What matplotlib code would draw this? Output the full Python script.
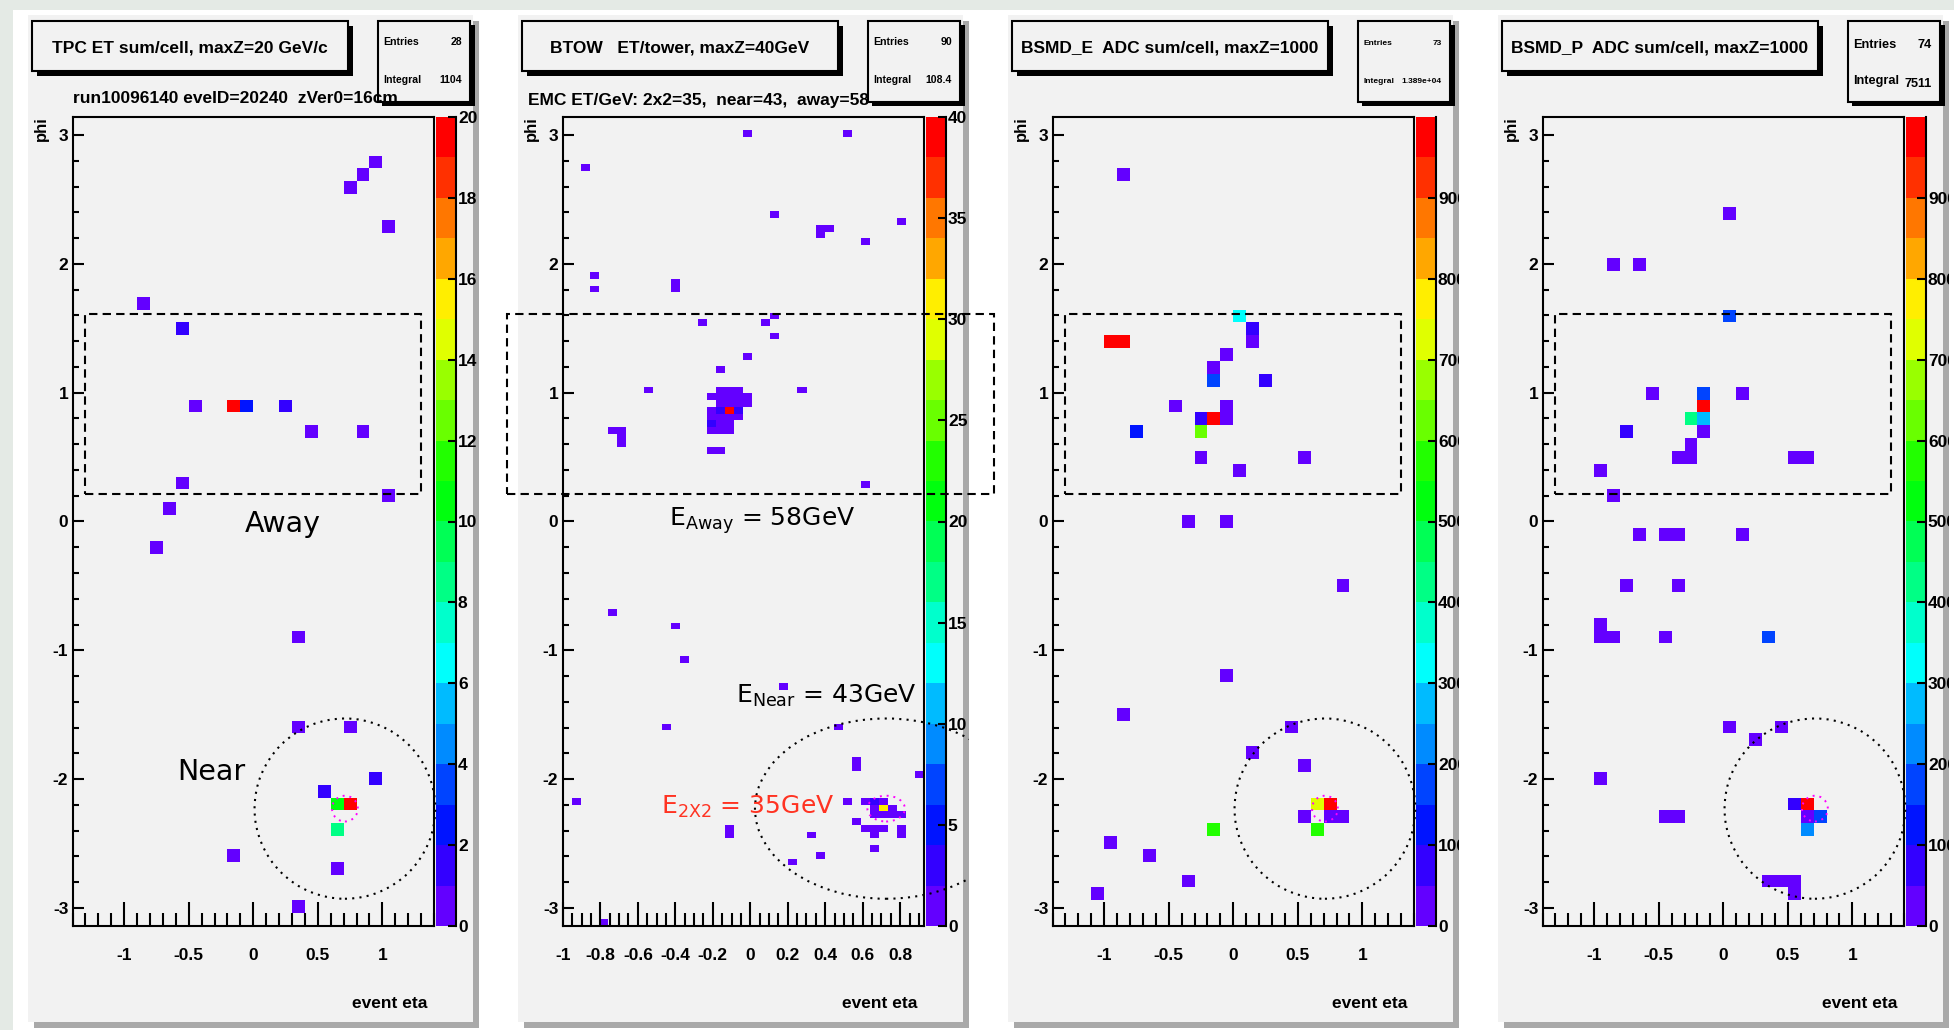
import colorsys
import numpy as np
import matplotlib
matplotlib.use("Agg")
import matplotlib.pyplot as plt
from matplotlib.colors import ListedColormap, BoundaryNorm
from matplotlib.patches import Rectangle, Circle
from matplotlib.lines import Line2D
from matplotlib.ticker import MultipleLocator, FuncFormatter
from matplotlib.transforms import Bbox, TransformedBbox

W, H = 1954, 1030

plt.rcParams['font.family'] = ['Liberation Sans', 'DejaVu Sans']
plt.rcParams['font.weight'] = 'bold'
plt.rcParams['axes.unicode_minus'] = False
plt.rcParams['axes.linewidth'] = 1.5

# ---------------- event data: (eta, phi, deposit) per filled cell ----------------
tpc_eta = [0.95, 0.85, 0.75, 1.05, -0.85, -0.55, -0.45, -0.15, -0.05, 0.25, 0.45, 0.85,
           -0.55, 1.05, -0.65, -0.75, 0.35, 0.35, 0.75, 0.95, 0.55, 0.65, 0.75, 0.65,
           -0.15, 0.65, 0.35]
tpc_phi = [2.79, 2.69, 2.59, 2.29, 1.70, 1.50, 0.90, 0.90, 0.90, 0.90, 0.70, 0.70,
           0.30, 0.20, 0.10, -0.20, -0.90, -1.60, -1.60, -2.00, -2.10, -2.19, -2.19, -2.39,
           -2.59, -2.69, -2.99]
tpc_et = [0.5, 0.6, 0.5, 0.7, 0.6, 1.4, 0.7, 19.5, 2.6, 1.5, 0.6, 0.5,
          0.4, 0.5, 0.6, 0.4, 0.7, 0.5, 0.6, 1.6, 1.8, 10.4, 19.8, 8.6,
          0.6, 0.5, 0.4]

btow_eta = [-0.88, -0.01, 0.52, 0.13, 0.81, 0.37, 0.42, 0.37, 0.61, -0.83, -0.83, -0.40,
            -0.40, -0.25, 0.08, 0.13, 0.13, -0.01, -0.16, -0.54, 0.28,
            -0.16, -0.11, -0.06,
            -0.21, -0.16, -0.11, -0.06, -0.01,
            -0.16, -0.11, -0.06, -0.01,
            -0.21, -0.16, -0.11, -0.06,
            -0.21, -0.16, -0.11, -0.06,
            -0.21, -0.16, -0.11,
            -0.21, -0.16, -0.11,
            -0.21, -0.16,
            -0.74, -0.69, -0.69, -0.69, 0.61,
            -0.74, -0.40, -0.35, 0.18, -0.45, 0.47, 0.57, 0.57, 0.90, -0.93,
            -0.11, -0.11, 0.32, 0.37, 0.23, 0.52,
            0.61, 0.66, 0.71,
            0.66, 0.71, 0.76,
            0.66, 0.71, 0.76, 0.81,
            0.57, 0.61, 0.66, 0.71, 0.81, 0.81, 0.66, 0.66, -0.79]
btow_phi = [2.75, 3.01, 3.01, 2.38, 2.33, 2.28, 2.28, 2.22, 2.17, 1.91, 1.81, 1.86,
            1.81, 1.55, 1.55, 1.60, 1.44, 1.28, 1.18, 1.02, 1.02,
            1.02, 1.02, 1.02,
            0.97, 0.97, 0.97, 0.97, 0.97,
            0.92, 0.92, 0.92, 0.92,
            0.86, 0.86, 0.86, 0.86,
            0.81, 0.81, 0.81, 0.81,
            0.76, 0.76, 0.76,
            0.71, 0.71, 0.71,
            0.55, 0.55,
            0.71, 0.71, 0.65, 0.60, 0.29,
            -0.71, -0.81, -1.07, -1.28, -1.60, -1.60, -1.86, -1.91, -1.96, -2.17,
            -2.38, -2.43, -2.43, -2.59, -2.64, -2.17,
            -2.17, -2.17, -2.17,
            -2.23, -2.23, -2.23,
            -2.28, -2.28, -2.28, -2.28,
            -2.33, -2.38, -2.38, -2.38, -2.38, -2.43, -2.43, -2.54, -3.12]
btow_et = [0.8, 0.6, 0.7, 0.9, 0.6, 1.1, 0.7, 0.8, 0.7, 0.6, 0.9, 0.8,
           0.7, 0.6, 0.7, 0.5, 0.9, 0.8, 0.7, 0.6, 0.7,
           1.2, 1.5, 0.9,
           0.7, 1.6, 1.9, 1.3, 0.6,
           1.4, 1.8, 1.2, 0.5,
           1.1, 3.2, 39.0, 2.8,
           1.5, 1.9, 1.7, 1.0,
           2.5, 1.6, 1.2,
           1.3, 1.1, 0.8,
           0.7, 0.6,
           0.9, 0.8, 0.7, 0.6, 0.6,
           0.7, 0.6, 0.8, 0.6, 0.7, 0.6, 0.8, 0.7, 0.6, 0.7,
           0.9, 0.7, 0.6, 0.7, 0.6, 0.8,
           1.2, 2.5, 1.4,
           1.5, 31.0, 1.8,
           1.7, 1.3, 1.1, 0.8,
           0.9, 0.7, 1.2, 0.9, 0.8, 0.6, 0.9, 0.7, 0.6]

bsmde_eta = [-0.85, 0.05, 0.15, -0.95, -0.85, 0.15, -0.05, -0.15, -0.15, 0.25, -0.45, -0.05,
             -0.25, -0.15, -0.05, -0.75, -0.25, -0.25, 0.55, 0.05, -0.35, -0.05, 0.85, -0.05,
             -0.85, 0.45, 0.15, 0.55, 0.65, 0.75, 0.55, 0.75, 0.85, 0.65, -0.15, -0.95,
             -0.65, -0.35, -1.05]
bsmde_phi = [2.69, 1.60, 1.50, 1.40, 1.40, 1.40, 1.30, 1.20, 1.10, 1.10, 0.90, 0.90,
             0.80, 0.80, 0.80, 0.70, 0.70, 0.50, 0.50, 0.40, 0.00, 0.00, -0.50, -1.20,
             -1.50, -1.60, -1.80, -1.90, -2.19, -2.19, -2.29, -2.29, -2.29, -2.39, -2.39, -2.49,
             -2.59, -2.79, -2.89]
bsmde_adc = [30, 320, 75, 960, 970, 35, 30, 25, 170, 80, 30, 35,
             70, 970, 30, 120, 620, 30, 25, 30, 20, 30, 25, 30,
             25, 30, 35, 30, 720, 990, 40, 30, 35, 570, 560, 30,
             25, 30, 30]

bsmdp_eta = [0.05, -0.85, -0.65, 0.05, -0.55, -0.15, 0.15, -0.15, -0.25, -0.15, -0.75, -0.15,
             -0.25, -0.35, -0.25, 0.55, 0.65, -0.95, -0.85, -0.65, -0.45, -0.35, 0.15, -0.75,
             -0.35, -0.95, -0.95, -0.85, -0.45, 0.35, 0.05, 0.25, 0.45, -0.95, -0.45, -0.35,
             0.55, 0.65, 0.65, 0.75, 0.65, 0.35, 0.45, 0.55, 0.55]
bsmdp_phi = [2.39, 1.99, 1.99, 1.60, 1.00, 1.00, 1.00, 0.90, 0.80, 0.80, 0.70, 0.70,
             0.60, 0.50, 0.50, 0.50, 0.50, 0.40, 0.20, -0.10, -0.10, -0.10, -0.10, -0.50,
             -0.50, -0.80, -0.90, -0.90, -0.90, -0.90, -1.60, -1.70, -1.60, -1.99, -2.29, -2.29,
             -2.19, -2.19, -2.29, -2.29, -2.39, -2.79, -2.79, -2.79, -2.89]
bsmdp_adc = [30, 30, 30, 170, 30, 160, 30, 980, 420, 270, 80, 30,
             30, 25, 30, 30, 25, 30, 30, 30, 25, 30, 30, 30,
             30, 30, 30, 30, 30, 170, 30, 30, 30, 30, 30, 30,
             80, 990, 30, 180, 220, 30, 30, 30, 30]

titles = ["TPC ET sum/cell, maxZ=20 GeV/c", "BTOW   ET/tower, maxZ=40GeV",
          "BSMD_E  ADC sum/cell, maxZ=1000", "BSMD_P  ADC sum/cell, maxZ=1000"]
entries = ["28", "90", "73", "74"]
integrals = ["1104", "108.4", "1.389e+04", "7511"]
z_max = [20, 40, 1000, 1000]
z_ticks = [np.arange(0, 21, 2), np.arange(0, 41, 5), np.arange(0, 901, 100), np.arange(0, 901, 100)]
subtitles = ["run10096140 eveID=20240  zVer0=16cm", "EMC ET/GeV: 2x2=35,  near=43,  away=58", "", ""]

# jet-finding geometry (eta, phi)
near_jet = (0.71, -2.23)
near_jet_btow = (0.725, -2.23)
cone_radius = 0.7
seed_radius = 0.1
away_box = (-1.3, 0.21, 2.6, 1.40)

# histogram binning
cell_eta_edges = np.linspace(-1.4, 1.4, 29)
cell_phi_edges = np.linspace(-np.pi, np.pi, 64)
tower_eta_edges = np.linspace(-1.002, 0.927, 41)
tower_phi_edges = np.linspace(-np.pi, np.pi, 121)


def root_palette(ncont=20, npal=50):
    """ROOT 'pretty' palette (50 HLS hues) sampled at ncont contour levels."""
    cols = []
    for j in range(ncont):
        idx = int((j + 0.99) * npal / ncont)
        hue = 280.0 - (idx + 1) * (280.0 / npal)
        cols.append(colorsys.hls_to_rgb(hue / 360.0, 0.5, 1.0))
    return ListedColormap(cols)


cmap = root_palette()

fig = plt.figure(figsize=(W / 100, H / 100), dpi=100)
fig.patch.set_facecolor('#e4eae5')


def frac_rect(x0, y0, x1, y1):
    return [x0 / W, 1 - y1 / H, (x1 - x0) / W, (y1 - y0) / H]


def fig_rect(x0, y0, x1, y1, **kw):
    return Rectangle((x0 / W, 1 - y1 / H), (x1 - x0) / W, (y1 - y0) / H,
                     transform=fig.transFigure, **kw)


def fig_text(x, y, s, **kw):
    return fig.text(x / W, 1 - y / H, s, **kw)


def pad_clip(x0, x1):
    return TransformedBbox(Bbox.from_extents(x0 / W, 0, x1 / W, 1), fig.transFigure)


def tick_fmt(v, pos):
    v = round(v, 6)
    if v == 0:
        return '0'
    return f'{v:g}'


fig.add_artist(fig_rect(13, 10, W, H, fc='white', ec='none', zorder=1))

pad_left = [28, 518, 1008, 1498]
panels = [
    (tpc_eta, tpc_phi, tpc_et, cell_eta_edges, cell_phi_edges, (0.5, 0.1), near_jet),
    (btow_eta, btow_phi, btow_et, tower_eta_edges, tower_phi_edges, (0.2, 0.05), near_jet_btow),
    (bsmde_eta, bsmde_phi, bsmde_adc, cell_eta_edges, cell_phi_edges, (0.5, 0.1), near_jet),
    (bsmdp_eta, bsmdp_phi, bsmdp_adc, cell_eta_edges, cell_phi_edges, (0.5, 0.1), near_jet),
]
stats_font = [7.6, 7.6, 6.0, 9.2]
stats_y = [(45, 83, 83), (45, 83, 83), (45, 83, 83), (47.5, 84, 87)]
sub_pos = [(45, 103), (10, 105), None, None]

for i, (eta, phi, w, xe, ye, (xmaj, xmin), jet) in enumerate(panels):
    P = pad_left[i]
    z = 10 * (i + 1)

    # pad with bevel shadow
    fig.add_artist(fig_rect(P + 6, 21, P + 451, 1028, fc='#a9a9a9', ec='none', zorder=z))
    fig.add_artist(fig_rect(P, 15, P + 445, 1022, fc='#f2f2f2', ec='none', zorder=z + 0.1))

    # title box
    fig.add_artist(fig_rect(P + 9, 26, P + 325, 75.5, fc='black', ec='none', zorder=z + 0.2))
    fig.add_artist(fig_rect(P + 4, 21, P + 320, 71, fc='#f2f2f2', ec='black', lw=1.5, zorder=z + 0.3))
    fig_text(P + 162, 52.7, titles[i], ha='center', va='baseline', fontsize=12.5, zorder=z + 0.4)

    # histogram
    Hc, _, _ = np.histogram2d(eta, phi, bins=[xe, ye], weights=w)
    Hm = np.ma.masked_equal(Hc.T, 0)
    norm = BoundaryNorm(np.linspace(0, z_max[i], 21), ncolors=20)

    cax = fig.add_axes(frac_rect(P + 407.5, 117, P + 428.5, 926))
    cax.set_zorder(z + 1)
    ax = fig.add_axes(frac_rect(P + 44.5, 117, P + 406, 926))
    ax.set_zorder(z + 2)
    ax.set_facecolor('#f2f2f2')

    mesh = ax.pcolormesh(xe, ye, Hm, cmap=cmap, norm=norm, edgecolors='none', antialiased=False)
    ax.set_xlim(xe[0], xe[-1])
    ax.set_ylim(-np.pi, np.pi)
    ax.xaxis.set_major_locator(MultipleLocator(xmaj))
    ax.xaxis.set_minor_locator(MultipleLocator(xmin))
    ax.yaxis.set_major_locator(MultipleLocator(1))
    ax.yaxis.set_minor_locator(MultipleLocator(0.2))
    ax.xaxis.set_major_formatter(FuncFormatter(tick_fmt))
    ax.yaxis.set_major_formatter(FuncFormatter(tick_fmt))
    ax.tick_params(axis='x', which='major', direction='in', length=17.3, width=1.5, pad=16, labelsize=12.5)
    ax.tick_params(axis='x', which='minor', direction='in', length=9.2, width=1.5)
    ax.tick_params(axis='y', which='major', direction='in', length=8, width=1.5, pad=3, labelsize=12.5)
    ax.tick_params(axis='y', which='minor', direction='in', length=4.3, width=1.5)

    # jet cones (cut at the pad edge) and away-side box
    dot = (0, (1, 2.5))
    for rad, col, lw in ((cone_radius, 'black', 1.5), (seed_radius, '#ff00ff', 1.4)):
        c = Circle(jet, rad, fill=False, ec=col, lw=lw, ls=dot, zorder=5)
        ax.add_patch(c)
        c.set_clip_path(None)
        c.set_clip_box(pad_clip(P, P + 451))
    ax.add_patch(Rectangle(away_box[:2], away_box[2], away_box[3], fill=False, ec='black', lw=1.5,
                           ls=(0, (4, 2.5)), clip_on=False, zorder=5))

    # palette axis
    cbar = fig.colorbar(mesh, cax=cax, ticks=z_ticks[i])
    cbar.outline.set_visible(False)
    cbar.minorticks_off()
    cax.tick_params(axis='y', which='major', direction='in', length=6.5, width=1.5, pad=1,
                    labelsize=12.5, right=True, labelright=True, left=False)
    cax.yaxis.set_major_formatter(FuncFormatter(tick_fmt))
    for t in cax.yaxis.get_major_ticks():
        t.label2.set_clip_on(True)
        t.label2.set_clip_box(pad_clip(0, P + 451))
    fig.add_artist(Line2D([(P + 428) / W] * 2, [1 - 926 / H, 1 - 117 / H], color='black', lw=1.5,
                          transform=fig.transFigure, zorder=z + 1.5))

    # axis titles
    fig_text(P + 13.5, 116, 'phi', rotation=90, ha='center', va='top', fontsize=12, zorder=z + 3)
    fig_text(P + 399, 1008, 'event eta', ha='right', va='baseline', fontsize=12.5, zorder=z + 3)

    # statistics box
    fig.add_artist(fig_rect(P + 354, 25, P + 447, 106, fc='black', ec='none', zorder=z + 4))
    fig.add_artist(fig_rect(P + 350, 21, P + 442, 102, fc='#f2f2f2', ec='black', lw=1.5, zorder=z + 4.1))
    fs = stats_font[i]
    ye_, yi_, yv_ = stats_y[i]
    fig_text(P + 355, ye_, 'Entries', ha='left', va='baseline', fontsize=fs, zorder=z + 4.2)
    fig_text(P + 434, ye_, entries[i], ha='right', va='baseline', fontsize=fs, zorder=z + 4.2)
    fig_text(P + 355, yi_, 'Integral', ha='left', va='baseline', fontsize=fs, zorder=z + 4.2)
    fig_text(P + 434, yv_, integrals[i], ha='right', va='baseline', fontsize=fs, zorder=z + 4.2)

    if sub_pos[i] is not None:
        fig_text(P + sub_pos[i][0], sub_pos[i][1], subtitles[i], ha='left', va='baseline',
                 fontsize=12.5, zorder=z + 5)

    if i == 0:
        ax.text(0.226, -0.083, 'Away', ha='center', va='baseline', fontsize=20.5,
                fontweight='normal', family='DejaVu Sans', clip_on=False, zorder=7)
        ax.text(-0.324, -2.004, 'Near', ha='center', va='baseline', fontsize=20.5,
                fontweight='normal', family='DejaVu Sans', clip_on=False, zorder=7)
    if i == 1:
        ax.text(0.0625, -0.034, 'E$_{\\mathregular{Away}}$ = 58GeV', ha='center', va='baseline',
                fontsize=18, fontweight='normal', family='DejaVu Sans', clip_on=False, zorder=7)
        ax.text(0.404, -1.407, 'E$_{\\mathregular{Near}}$ = 43GeV', ha='center', va='baseline',
                fontsize=18, fontweight='normal', family='DejaVu Sans', clip_on=False, zorder=7)
        ax.text(-0.0125, -2.273, 'E$_{\\mathregular{2X2}}$ = 35GeV', ha='center', va='baseline',
                fontsize=18, fontweight='normal', family='DejaVu Sans', color='#ff3322',
                clip_on=False, zorder=7)

fig.savefig('out.png', dpi=100)
